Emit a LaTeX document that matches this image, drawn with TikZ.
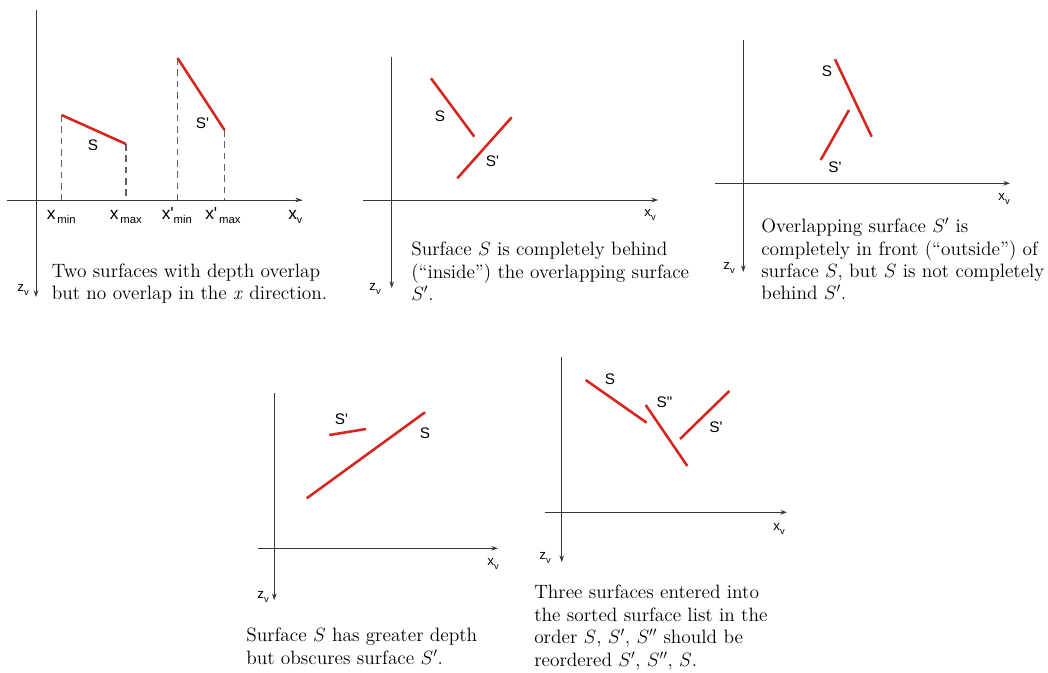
\documentclass[tikz,border=0pt]{standalone}
\usepackage{fontspec}
\newfontfamily\labfont{Liberation Sans}
\usetikzlibrary{arrows.meta}
\definecolor{surf}{RGB}{214,36,30}
\definecolor{axisc}{RGB}{55,55,55}
\newcommand\subl[3]{#1\raisebox{-0.45ex}{\fontsize{#3}{#3}\selectfont #2}}
\tikzset{
  axisline/.style={draw=axisc, line width=0.7pt},
  axisarrow/.style={axisline, -{Stealth[length=5pt,width=3.5pt]}},
  surface/.style={draw=surf, line width=1.9pt},
  proj/.style={draw=gray!75!black, line width=0.8pt, dash pattern=on 5pt off 3.5pt},
  lab/.style={font=\labfont\fontsize{11.5}{13}\selectfont, inner sep=0},
  xlab/.style={font=\labfont\fontsize{13}{14}\selectfont, inner sep=0, anchor=base west},
  axlab/.style={font=\labfont\fontsize{10}{11}\selectfont, inner sep=0},
  caption/.style={font=\fontsize{14.5}{16.8}\selectfont, align=left, anchor=north west, inner sep=0},
}
\begin{document}
\begin{tikzpicture}[x=0.75pt,y=-0.75pt]
\useasboundingbox (0,0) rectangle (1048,673);

% ---------------- Panel 1 ----------------
\coordinate (p1vt) at (36,10);
\coordinate (p1vb) at (36,297);
\coordinate (p1hl) at (7,200);
\coordinate (p1hr) at (302,200);
\draw[axisline] (p1hl) -- (p1hr);
\draw[axisarrow] (p1hl) -- (p1hr);
\draw[axisarrow] (p1vt) -- (p1vb);

\coordinate (sA) at (61.5,115);
\coordinate (sB) at (126,144);
\coordinate (spA) at (177.5,58);
\coordinate (spB) at (224.5,130);
\coordinate (sA0) at (61.5,200);
\coordinate (sB0) at (126,200);
\coordinate (spA0) at (177.5,200);
\coordinate (spB0) at (224.5,200);
\draw[proj] (sA) -- (sA0);
\draw[proj] (sB) -- (sB0);
\draw[proj] (spA) -- (spA0);
\draw[proj] (spB) -- (spB0);
\draw[surface] (sA) -- (sB);
\draw[surface] (spA) -- (spB);
\node[lab] (p1S) at (93,145.5) {S};
\node[lab] (p1Sp) at (202.5,123) {S'};

\node[xlab] (xmin) at (46.5,219.5) {\subl{x}{\,min}{8.5}};
\node[xlab] (xmax) at (109.5,219.5) {\subl{x}{\,max}{8.5}};
\node[xlab] (xpmin) at (161.5,219.5) {\subl{x'}{min}{8.5}};
\node[xlab] (xpmax) at (205,219.5) {\subl{x'}{\,max}{8.5}};
\node[xlab] (p1xv) at (288,219.5) {\subl{x}{v}{8}};
\node[axlab] (p1zv) at (23,290) {\subl{z}{v}{7}};

\node[caption] (cap1) at (51.5,263.5) {Two surfaces with depth overlap\\but no overlap in the \textit{x} direction.};

% ---------------- Panel 2 ----------------
\coordinate (p2vt) at (391.7,56.7);
\coordinate (p2vb) at (391.7,288);
\coordinate (p2hl) at (363,200);
\coordinate (p2hr) at (658,200);
\draw[axisarrow] (p2hl) -- (p2hr);
\draw[axisarrow] (p2vt) -- (p2vb);
\coordinate (p2sA) at (431,78.3);
\coordinate (p2sB) at (474.3,136.7);
\coordinate (p2spA) at (457.3,178.3);
\coordinate (p2spB) at (511.7,117.3);
\draw[surface] (p2sA) -- (p2sB);
\draw[surface] (p2spA) -- (p2spB);
\node[lab] (p2S) at (440,116) {S};
\node[lab] (p2Sp) at (492.5,161) {S'};
\node[axlab] (p2xv) at (650,215) {\subl{x}{v}{7}};
\node[axlab] (p2zv) at (375,289) {\subl{z}{v}{7}};
\node[caption] (cap2) at (411,242) {Surface $S$ is completely behind\\(``inside'') the overlapping surface\\$S'$.};

% ---------------- Panel 3 ----------------
\coordinate (p3vt) at (743.3,40);
\coordinate (p3vb) at (743.3,272);
\coordinate (p3hl) at (715,183.3);
\coordinate (p3hr) at (1010,183.3);
\draw[axisarrow] (p3hl) -- (p3hr);
\draw[axisarrow] (p3vt) -- (p3vb);
\coordinate (p3sA) at (835,59.3);
\coordinate (p3sB) at (871.7,136.7);
\coordinate (p3spA) at (849,110);
\coordinate (p3spB) at (820.7,160);
\draw[surface] (p3sA) -- (p3sB);
\draw[surface] (p3spA) -- (p3spB);
\node[lab] (p3S) at (827,71) {S};
\node[lab] (p3Sp) at (835,167.5) {S'};
\node[axlab] (p3xv) at (1004,199) {\subl{x}{v}{7}};
\node[axlab] (p3zv) at (729,268) {\subl{z}{v}{7}};
\node[caption] (cap3) at (761,218) {Overlapping surface $S'$ is\\completely in front (``outside'') of\\surface $S$, but $S$ is not completely\\behind $S'$.};

% ---------------- Panel 4 ----------------
\coordinate (p4vt) at (274.3,393);
\coordinate (p4vb) at (274.3,600);
\coordinate (p4hl) at (258,548.3);
\coordinate (p4hr) at (498,548.3);
\draw[axisarrow] (p4hl) -- (p4hr);
\draw[axisarrow] (p4vt) -- (p4vb);
\coordinate (p4sA) at (306.7,498.3);
\coordinate (p4sB) at (425,412.3);
\coordinate (p4spA) at (329.3,435);
\coordinate (p4spB) at (366,429);
\draw[surface] (p4sA) -- (p4sB);
\draw[surface] (p4spA) -- (p4spB);
\node[lab] (p4S) at (425,433) {S};
\node[lab] (p4Sp) at (341.5,419) {S'};
\node[axlab] (p4xv) at (493,564) {\subl{x}{v}{7}};
\node[axlab] (p4zv) at (263,597) {\subl{z}{v}{7}};
\node[caption] (cap4) at (246,628) {Surface $S$ has greater depth\\but obscures surface $S'$.};

% ---------------- Panel 5 ----------------
\coordinate (p5vt) at (561.7,357);
\coordinate (p5vb) at (561.7,562);
\coordinate (p5hl) at (545,512.3);
\coordinate (p5hr) at (787,512.3);
\draw[axisarrow] (p5hl) -- (p5hr);
\draw[axisarrow] (p5vt) -- (p5vb);
\coordinate (p5sA) at (585.7,380);
\coordinate (p5sB) at (646.7,422.7);
\coordinate (p5sppA) at (645.7,405);
\coordinate (p5sppB) at (687.3,466);
\coordinate (p5spA) at (680,439);
\coordinate (p5spB) at (729.3,391);
\draw[surface] (p5sA) -- (p5sB);
\draw[surface] (p5sppA) -- (p5sppB);
\draw[surface] (p5spA) -- (p5spB);
\node[lab] (p5S) at (610,379) {S};
\node[lab] (p5Spp) at (664.5,402) {S"};
\node[lab] (p5Sp) at (716,427) {S'};
\node[axlab] (p5xv) at (779,529) {\subl{x}{v}{7}};
\node[axlab] (p5zv) at (545,558) {\subl{z}{v}{7}};
\node[caption] (cap5) at (534,585) {Three surfaces entered into\\the sorted surface list in the\\order $S$, $S'$, $S''$ should be\\reordered $S'$, $S''$, $S$.};
\end{tikzpicture}
\end{document}
